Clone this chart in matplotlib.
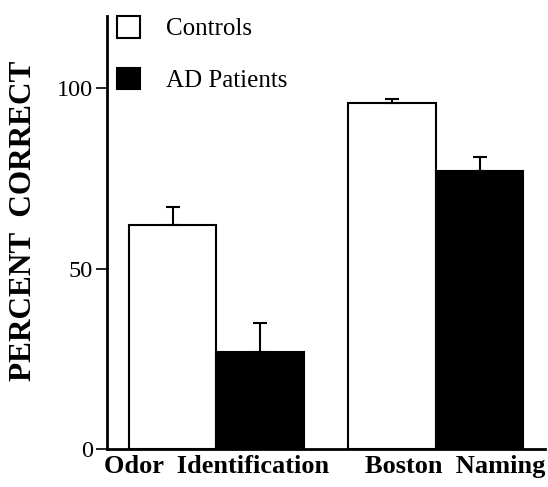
import matplotlib.pyplot as plt
import numpy as np

tests = ["Odor  Identification", "Boston  Naming"]
controls = [62, 96]
controls_err = [5, 1]
patients = [27, 77]
patients_err = [8, 4]

plt.rcParams['font.family'] = ['Liberation Serif', 'DejaVu Serif']

fig = plt.figure(figsize=(5.48, 4.87), dpi=100)
ax = fig.add_axes([0.195, 0.078, 0.8, 0.889])

x = np.arange(len(tests))
width = 0.4
err_kw = dict(elinewidth=1.5, ecolor='black', capsize=5, capthick=1.5)

ax.bar(x - width / 2, controls, width=width, color='white', edgecolor='black',
       linewidth=1.5, label='Controls',
       yerr=[[0] * len(controls), controls_err], error_kw=err_kw)
ax.bar(x + width / 2, patients, width=width, color='black', edgecolor='black',
       linewidth=1.5, label='AD Patients',
       yerr=[[0] * len(patients), patients_err], error_kw=err_kw)

ax.set_xlim(-0.5, 1.5)
ax.set_ylim(0, 120)
ax.set_yticks([0, 50, 100])
ax.tick_params(axis='y', direction='out', length=8, width=1.2, labelsize=17.5, pad=2)
# labels sit a little right of the bar pairs in the original
ax.set_xticks(x + np.array([0.0, 0.09]))
ax.set_xticklabels(tests, fontsize=19, fontweight='bold')
ax.tick_params(axis='x', length=0, pad=4)
ax.spines['top'].set_visible(False)
ax.spines['right'].set_visible(False)
ax.spines['left'].set_linewidth(2)
ax.spines['bottom'].set_linewidth(2)
ax.set_ylabel("PERCENT  CORRECT", fontsize=22.5, fontweight='bold')
ax.yaxis.set_label_coords(-0.157, 0.527)

ax.legend(loc='upper left', bbox_to_anchor=(117 / 548, 1 - 16 / 487),
          bbox_transform=fig.transFigure, frameon=False, borderaxespad=0,
          borderpad=0, fontsize=18, handlelength=0.9, handleheight=0.95,
          labelspacing=1.1, handletextpad=1.05)

plt.savefig("out.png", dpi=100)
